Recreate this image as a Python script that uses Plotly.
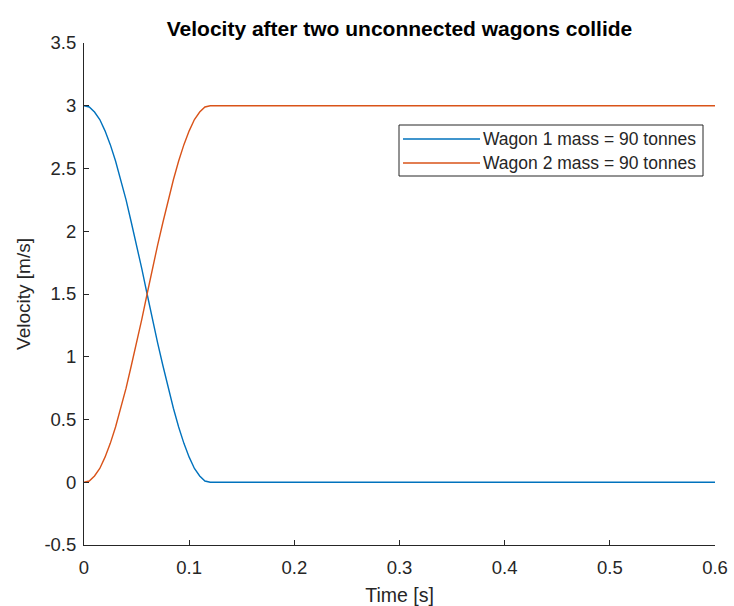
import plotly.graph_objects as go

# Time samples [s]
time_s = [0.000, 0.005, 0.010, 0.015, 0.020, 0.025, 0.030, 0.035, 0.040, 0.045,
          0.050, 0.055, 0.060, 0.065, 0.070, 0.075, 0.080, 0.085, 0.090, 0.095,
          0.100, 0.105, 0.110, 0.115, 0.120, 0.600]

# Wagon 1 velocity [m/s]
wagon1_v = [3.00, 2.99, 2.95, 2.89, 2.80, 2.69, 2.56, 2.41, 2.25, 2.07,
            1.89, 1.70, 1.50, 1.30, 1.11, 0.93, 0.75, 0.59, 0.44, 0.31,
            0.20, 0.11, 0.05, 0.01, 0.00, 0.00]

# Wagon 2 velocity [m/s]
wagon2_v = [0.00, 0.01, 0.05, 0.11, 0.20, 0.31, 0.44, 0.59, 0.75, 0.93,
            1.11, 1.30, 1.50, 1.70, 1.89, 2.07, 2.25, 2.41, 2.56, 2.69,
            2.80, 2.89, 2.95, 2.99, 3.00, 3.00]

series_names = ["Wagon 1 mass = 90 tonnes", "Wagon 2 mass = 90 tonnes"]
series_colors = ["#0072BD", "#D95319"]

x_ticks = [0, 0.1, 0.2, 0.3, 0.4, 0.5, 0.6]
x_tick_labels = ["0", "0.1", "0.2", "0.3", "0.4", "0.5", "0.6"]
y_ticks = [-0.5, 0, 0.5, 1, 1.5, 2, 2.5, 3, 3.5]
y_tick_labels = ["-0.5", "0", "0.5", "1", "1.5", "2", "2.5", "3", "3.5"]

FONT = "Liberation Sans, Arial, Helvetica, sans-serif"
AX = "#262626"
W, H = 734, 606
L, R, T, B = 84, 715, 43, 545  # plot area in pixels


def px_x(p):
    return (p - L) / (R - L)


def px_y(p):
    return (B - p) / (B - T)


fig = go.Figure()
for xs, ys, name, col in [(time_s, wagon1_v, series_names[0], series_colors[0]),
                          (time_s, wagon2_v, series_names[1], series_colors[1])]:
    fig.add_trace(go.Scatter(x=xs, y=ys, mode="lines", name=name,
                             line=dict(color=col, width=1.4), showlegend=False))

# Legend box (MATLAB style, long line samples)
shapes = [dict(type="rect", xref="paper", yref="paper",
               x0=px_x(399), x1=px_x(703), y0=px_y(176), y1=px_y(125),
               line=dict(color=AX, width=1), fillcolor="white", layer="above")]
annotations = []
for i, (name, col) in enumerate(zip(series_names, series_colors)):
    yc = 139 + 24 * i
    shapes.append(dict(type="line", xref="paper", yref="paper",
                       x0=px_x(403), x1=px_x(480), y0=px_y(yc), y1=px_y(yc),
                       line=dict(color=col, width=1.4), layer="above"))
    annotations.append(dict(text=name, xref="paper", yref="paper",
                            x=px_x(481), y=px_y(yc), xanchor="left", yanchor="middle",
                            showarrow=False,
                            font=dict(family=FONT, size=17.5, color=AX)))

fig.update_layout(
    width=W, height=H,
    margin=dict(l=L, r=W - R, t=T, b=H - B),
    paper_bgcolor="white", plot_bgcolor="white",
    font=dict(family=FONT, size=18, color=AX),
    title=dict(text="<b>Velocity after two unconnected wagons collide</b>",
               x=(L + R) / 2 / W, xanchor="center",
               y=1 - 29 / H, yanchor="middle",
               font=dict(family=FONT, size=21, color="black"),
               automargin=False),
    showlegend=False,
    shapes=shapes,
    annotations=annotations,
)

fig.update_xaxes(
    range=[0, 0.6], tickvals=x_ticks, ticktext=x_tick_labels,
    showline=True, linecolor=AX, linewidth=1, mirror=False,
    ticks="inside", ticklen=5, tickcolor=AX, showgrid=False, zeroline=False,
    ticklabelstandoff=6, automargin=False,
    title=dict(text="Time [s]", standoff=12, font=dict(family=FONT, size=19.5, color=AX)),
    tickfont=dict(family=FONT, size=18.5, color=AX),
)
fig.update_yaxes(
    range=[-0.5, 3.5], tickvals=y_ticks, ticktext=y_tick_labels,
    showline=True, linecolor=AX, linewidth=1, mirror=False,
    ticks="inside", ticklen=5, tickcolor=AX, showgrid=False, zeroline=False,
    ticklabelstandoff=3, automargin=False,
    title=dict(text="Velocity [m/s]", standoff=8, font=dict(family=FONT, size=19, color=AX)),
    tickfont=dict(family=FONT, size=18.5, color=AX),
)

fig.write_html("out.html")
